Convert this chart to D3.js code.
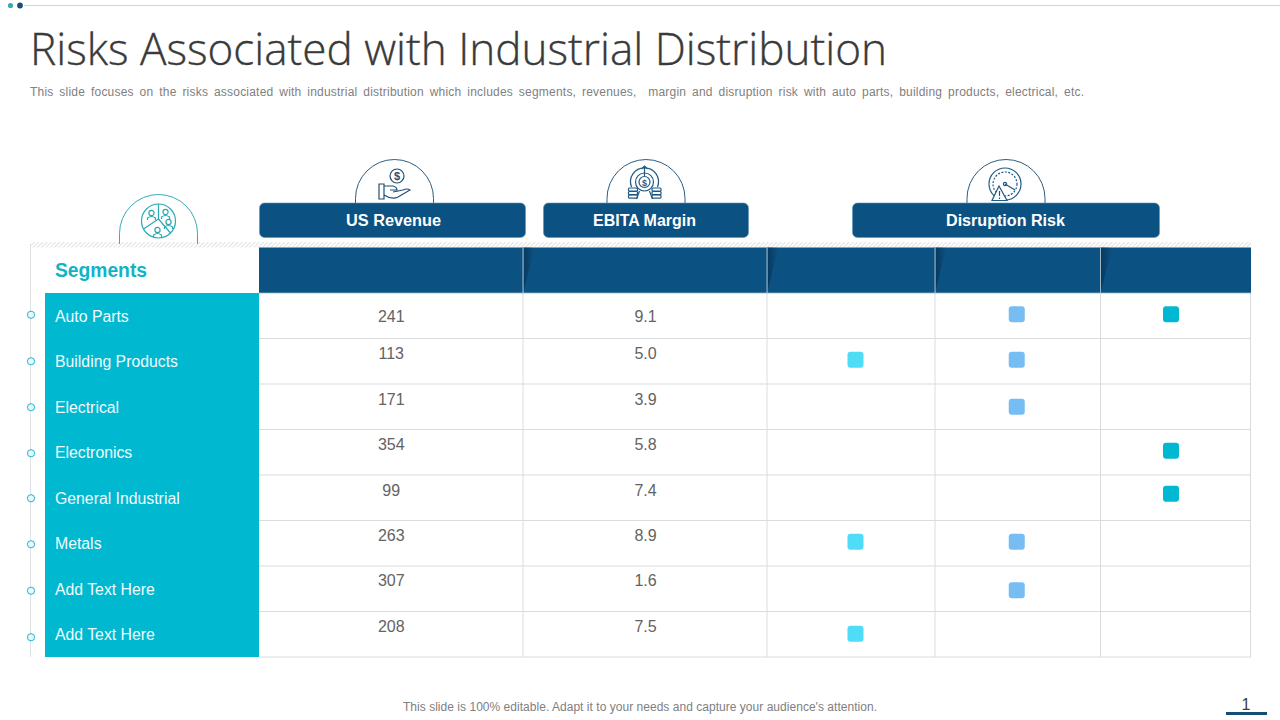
<!DOCTYPE html>
<html>
<head>
<meta charset="utf-8">
<script src="https://cdn.jsdelivr.net/npm/d3@7"></script>
<style>
  html, body { margin: 0; padding: 0; background: #fff; }
  svg { display: block; }
  text { font-family: "Liberation Sans", Arial, sans-serif; }
</style>
</head>
<body>
<div id="chart"></div>
<script>
// Data
const segments = ["Auto Parts", "Building Products", "Electrical", "Electronics", "General Industrial", "Metals", "Add Text Here", "Add Text Here"];
const usRevenue = ["241", "113", "171", "354", "99", "263", "307", "208"];
const ebitaMargin = ["9.1", "5.0", "3.9", "5.8", "7.4", "8.9", "1.6", "7.5"];
const riskLow = [0, 1, 0, 0, 0, 1, 0, 1];
const riskMedium = [1, 1, 1, 0, 0, 1, 1, 0];
const riskHigh = [1, 0, 0, 1, 1, 0, 0, 0];
const columns = ["revenue", "margin", "low", "medium", "high"];
const groupLabels = ["US Revenue", "EBITA Margin", "Disruption Risk"];

const width = 1280;
const height = 720;
const navy = "#0b5282";
const teal = "#00b8d0";
const grid = "#d9dcdf";

const svg = d3.select("#chart").append("svg")
    .attr("width", width)
    .attr("height", height);

const defs = svg.append("defs");
const hatch = defs.append("pattern")
    .attr("id", "hatch")
    .attr("width", 3).attr("height", 3)
    .attr("patternUnits", "userSpaceOnUse")
    .attr("patternTransform", "rotate(45)");
hatch.append("line")
    .attr("x1", 0).attr("y1", 0).attr("x2", 0).attr("y2", 3)
    .attr("stroke", "#c4c4c4").attr("stroke-width", 1);
const shade = defs.append("linearGradient").attr("id", "shade");
shade.append("stop").attr("offset", 0).attr("stop-color", "#052f50").attr("stop-opacity", 0.7);
shade.append("stop").attr("offset", 1).attr("stop-color", "#052f50").attr("stop-opacity", 0);

// Scales: rows are equal, the columns are not
const y = d3.scaleBand().domain(d3.range(segments.length)).range([293, 657]);
const colEdges = [259, 523.5, 767.5, 935.5, 1101, 1251];
const x = d3.scaleOrdinal().domain(columns).range(colEdges.slice(0, -1));
const colW = d3.scaleOrdinal().domain(columns).range(d3.pairs(colEdges).map(p => p[1] - p[0]));
const colMid = c => x(c) + colW(c) / 2;

// Top rule and dots
svg.append("line").attr("x1", 24).attr("x2", 1280).attr("y1", 5.5).attr("y2", 5.5)
    .attr("stroke", "#d4d4d4").attr("stroke-width", 1.2);
svg.append("circle").attr("cx", 10.5).attr("cy", 5.5).attr("r", 2.6).attr("fill", "#3aa9b5");
svg.append("circle").attr("cx", 20).attr("cy", 5.5).attr("r", 2.9).attr("fill", "#1c4e78");

// Title
svg.append("text").attr("x", 30).attr("y", 65)
    .attr("textLength", 857).attr("lengthAdjust", "spacingAndGlyphs")
    .style("font-family", "'Open Sans', sans-serif").style("font-weight", 300)
    .style("font-size", "44px").attr("fill", "#3a3a3a")
    .attr("stroke", "#3a3a3a").attr("stroke-width", 0.35)
    .text("Risks Associated with Industrial Distribution");
svg.append("text").attr("x", 30).attr("y", 96)
    .style("font-size", "12px").style("word-spacing", "2.3px").attr("fill", "#808080")
    .attr("xml:space", "preserve").style("white-space", "pre")
    .attr("textLength", 1054).attr("lengthAdjust", "spacing")
    .text("This slide focuses on the risks associated with industrial distribution which includes segments, revenues,  margin and disruption risk with auto parts, building products, electrical, etc.");

// Arches behind the header pills
const arch = (cx, rx, top, bottom, color) => {
    svg.append("path")
        .attr("d", `M${cx - rx},${bottom} L${cx - rx},${top + rx} A${rx},${rx} 0 0 1 ${cx + rx},${top + rx} L${cx + rx},${bottom}`)
        .attr("fill", "#fff").attr("stroke", color).attr("stroke-width", 1);
};
arch(394.5, 39, 159.5, 203, "#2d5d80");
arch(646, 39, 159.5, 203, "#2d5d80");
arch(1006, 39, 159.5, 203, "#2d5d80");
arch(158.5, 39, 194.5, 244, "#33adb8");

// Small line icons
const icon = (cx, cy, color) => svg.append("g")
    .attr("transform", `translate(${cx},${cy})`)
    .attr("fill", "none").attr("stroke", color).attr("stroke-width", 1.2);

const hand = icon(394, 177, "#1f4f75");
hand.append("circle").attr("cx", 3).attr("cy", -1).attr("r", 7);
hand.append("text").attr("x", 3).attr("y", 3).attr("text-anchor", "middle").attr("stroke", "none")
    .attr("fill", "#1f4f75").style("font-size", "11px").style("font-weight", "bold").text("$");
hand.append("path").attr("d", "M-15,7 h5 v15 h-5 z M-10,9 h9 q4,1 4,4 h-7 M-10,18 q8,5 14,2 l12,-7 q-3,-2 -7,0 l-10,2");

const target = icon(644.5, 182, "#1f5a85");
target.append("circle").attr("r", 5.5);
target.append("circle").attr("r", 9);
target.append("path").attr("d", "M-13,5 A14,14 0 1 1 13,5");
target.append("text").attr("y", 3.5).attr("text-anchor", "middle").attr("stroke", "none")
    .attr("fill", "#1f5a85").style("font-size", "9px").style("font-weight", "bold").text("$");
target.append("path").attr("d", "M0,-6 V-16 M-3,-13 L0,-16 L3,-13 M-5,9 l-3,8 M5,9 l3,8");
[-11.5, 12].forEach(dx => {
    [6, 9.5, 13].forEach(dy => {
        target.append("rect").attr("x", dx - 4.5).attr("y", dy)
            .attr("width", 9).attr("height", 3.2).attr("rx", 1);
    });
});

const gauge = icon(1005, 184, "#1f5a85");
gauge.append("circle").attr("r", 16);
gauge.append("circle").attr("r", 12).attr("stroke-dasharray", "2 1.5");
gauge.append("path").attr("d", "M0,0 L10,6");
gauge.append("circle").attr("r", 1.6);
gauge.append("path").attr("d", "M-6,2 L-13,16.5 H2 Z").attr("fill", "#fff");
gauge.append("path").attr("d", "M-5.5,7 V12 M-5.5,13.5 V15");

const people = icon(158.5, 221, "#2aa9b5");
people.append("circle").attr("r", 17);
people.append("path").attr("d", "M0,-17 V-2 L-15,8 M0,-2 L12,12");
[[-7, -8], [7, -9], [10, 1], [-1, 9]].forEach(p => {
    people.append("circle").attr("cx", p[0]).attr("cy", p[1]).attr("r", 2.6);
    people.append("path").attr("d", `M${p[0] - 4},${p[1] + 7} v-2 q4,-3 8,0 v2`);
});

// Hatched band and outer rules of the table
svg.append("rect").attr("x", 30).attr("y", 242).attr("width", 1221).attr("height", 5.5).attr("fill", "url(#hatch)");
svg.append("line").attr("x1", 30.5).attr("x2", 30.5).attr("y1", 244).attr("y2", 657)
    .attr("stroke", "#dfe2e4");

// Header pills
const pills = [
    { x0: 259.5, x1: 525.5 },
    { x0: 543.5, x1: 748.5 },
    { x0: 852.5, x1: 1159.5 },
];
svg.selectAll(".pill").data(groupLabels).enter().append("rect")
    .attr("class", "pill")
    .attr("x", (d, i) => pills[i].x0)
    .attr("y", 203)
    .attr("width", (d, i) => pills[i].x1 - pills[i].x0)
    .attr("height", 34.5)
    .attr("rx", 5)
    .attr("fill", navy)
    .attr("stroke", "#5f93b5").attr("stroke-width", 0.6);
const pillTextX = [393.5, 644.5, 1005.5];
const pillTextW = [95, 103, 119];
svg.selectAll(".pill-label").data(groupLabels).enter().append("text")
    .attr("class", "pill-label")
    .attr("x", (d, i) => pillTextX[i])
    .attr("y", 226)
    .attr("text-anchor", "middle")
    .attr("textLength", (d, i) => pillTextW[i])
    .attr("lengthAdjust", "spacingAndGlyphs")
    .attr("fill", "#fff")
    .style("font-size", "16px").style("font-weight", "bold")
    .text(d => d);

// Navy header row, one cell per column
svg.selectAll(".head").data(columns).enter().append("rect")
    .attr("class", "head")
    .attr("x", c => x(c)).attr("y", 247.5)
    .attr("width", c => colW(c)).attr("height", 45.5)
    .attr("fill", navy);
svg.selectAll(".head-shade").data(columns.slice(1)).enter().append("path")
    .attr("class", "head-shade")
    .attr("d", c => `M${x(c)},247.5 h11 l-11,44 z`)
    .attr("fill", "url(#shade)");

// Segments column
svg.append("text").attr("x", 55).attr("y", 277)
    .attr("textLength", 92).attr("lengthAdjust", "spacingAndGlyphs")
    .attr("fill", "#12b3c6")
    .style("font-size", "20px").style("font-weight", "bold")
    .text("Segments");
svg.append("rect").attr("x", 45).attr("y", y(0))
    .attr("width", 214).attr("height", y.bandwidth() * segments.length)
    .attr("fill", teal);
const labelNudge = [0, 0, 0, 0, 0, 0, 0, -0.5];
svg.selectAll(".segment").data(segments).enter().append("text")
    .attr("class", "segment")
    .attr("x", 55)
    .attr("y", (d, i) => y(i) + y.bandwidth() / 2 + 6 + labelNudge[i])
    .attr("fill", "#f2fbfd")
    .style("font-size", "15.8px")
    .text(d => d);

// Bullets left of the rows
const bulletNudge = [-1, 0, 0.5, 1, 0.5, 1, 2, 3];
svg.selectAll(".bullet").data(segments).enter().append("circle")
    .attr("class", "bullet")
    .attr("cx", 31)
    .attr("cy", (d, i) => y(i) + y.bandwidth() / 2 + bulletNudge[i])
    .attr("r", 3.6)
    .attr("fill", "#e8f7fa")
    .attr("stroke", "#23b5cc");

// Grid
svg.selectAll(".row-rule").data(d3.range(segments.length)).enter().append("line")
    .attr("class", "row-rule")
    .attr("x1", 259).attr("x2", 1251)
    .attr("y1", i => y(i) + y.bandwidth()).attr("y2", i => y(i) + y.bandwidth())
    .attr("stroke", grid).attr("stroke-width", 1.2);
svg.selectAll(".col-rule").data(colEdges.slice(1)).enter().append("line")
    .attr("class", "col-rule")
    .attr("x1", d => d - 0.5).attr("x2", d => d - 0.5)
    .attr("y1", 293).attr("y2", 657)
    .attr("stroke", grid);
svg.selectAll(".head-rule").data(colEdges.slice(1, -1)).enter().append("line")
    .attr("class", "head-rule")
    .attr("x1", d => d - 0.5).attr("x2", d => d - 0.5)
    .attr("y1", 247.5).attr("y2", 293)
    .attr("stroke", "#9db6c9");
svg.append("line").attr("x1", 259).attr("x2", 1251).attr("y1", 293).attr("y2", 293)
    .attr("stroke", "#9db6c9").attr("stroke-width", 0.8);

// Numbers: the first row sits in the middle, the others higher up
const numberNudge = [6, -2, -2, -2, -2, -2, -3, -2];
const drawNumbers = (values, col) => {
    svg.selectAll(".n-" + col).data(values).enter().append("text")
        .attr("class", "n-" + col)
        .attr("x", colMid(col))
        .attr("y", (d, i) => y(i) + y.bandwidth() / 2 + numberNudge[i])
        .attr("text-anchor", "middle")
        .attr("fill", "#636363")
        .style("font-size", "16px")
        .text(d => d);
};
drawNumbers(usRevenue, "revenue");
drawNumbers(ebitaMargin, "margin");

// Risk markers
const markNudge = [-1.5, -1.5, 0, -1.5, -4, -1.5, 1.5, -0.5];
const drawMarks = (flags, col, dx, color) => {
    const rows = d3.range(flags.length).filter(i => flags[i] === 1);
    svg.selectAll(".m-" + col).data(rows).enter().append("rect")
        .attr("class", "m-" + col)
        .attr("x", colMid(col) + dx - 8)
        .attr("y", i => y(i) + y.bandwidth() / 2 + markNudge[i] - 8)
        .attr("width", 16).attr("height", 16).attr("rx", 3)
        .attr("fill", color);
};
drawMarks(riskLow, "low", 4, "#4fdcf6");
drawMarks(riskMedium, "medium", -1.5, "#76bdf3");
drawMarks(riskHigh, "high", -5, "#00b8d0");

// Footer
svg.append("text").attr("x", 640).attr("y", 711)
    .attr("text-anchor", "middle").attr("fill", "#808080")
    .attr("textLength", 474).attr("lengthAdjust", "spacing")
    .style("font-size", "12px")
    .text("This slide is 100% editable. Adapt it to your needs and capture your audience's attention.");
svg.append("text").attr("x", 1246).attr("y", 710)
    .attr("text-anchor", "middle").attr("fill", "#404040")
    .style("font-size", "16px")
    .text("1");
svg.append("rect").attr("x", 1226).attr("y", 712).attr("width", 41).attr("height", 3).attr("fill", "#134f74");
</script>
</body>
</html>
